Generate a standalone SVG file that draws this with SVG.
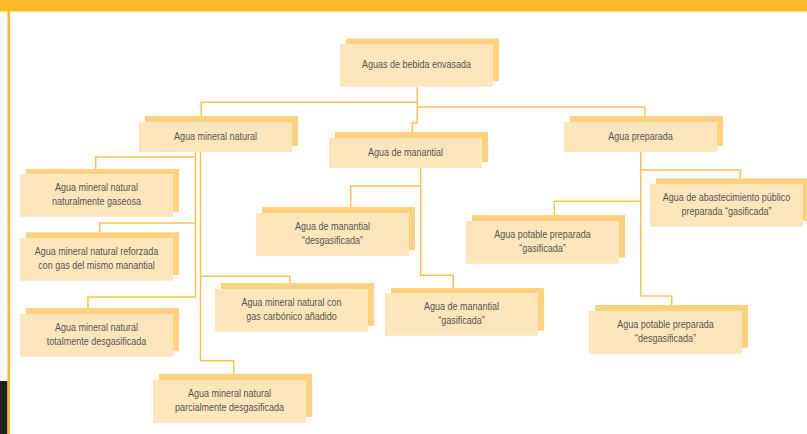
<svg xmlns="http://www.w3.org/2000/svg" width="807" height="434" viewBox="0 0 807 434">
<style>
.sh{fill:#FDD27F}
.bx{fill:#FDE6BC}
.t{font-family:"Liberation Sans",Arial,sans-serif;font-size:11px;fill:#5A554F;text-anchor:middle}
.c{fill:none;stroke:#FBC24E;stroke-width:1.5}
</style>
<rect x="0" y="0" width="807" height="11.5" fill="#FDB927"/>
<rect x="7.5" y="0" width="2.5" height="434" fill="#FDB927"/>
<rect x="0" y="381" width="7.3" height="53" fill="#231F20"/>
<g id="connectors">
<path class="c" d="M417.3 87 V122.7 H412.3 V132"/>
<path class="c" d="M417.3 102.3 H201.3 V116"/>
<path class="c" d="M417.3 107 H645 V116"/>
<path class="c" d="M195.5 152 V297 H88 V308"/>
<path class="c" d="M195.5 157 H95.7 V169"/>
<path class="c" d="M195.5 223 H99.7 V232"/>
<path class="c" d="M200.5 152 V360.7 H233.7 V374"/>
<path class="c" d="M200.5 276.3 H290 V283"/>
<path class="c" d="M420.7 168 V275.3 H453.3 V288"/>
<path class="c" d="M420.7 186 H350.7 V207"/>
<path class="c" d="M640.7 152 V296 H671.7 V305"/>
<path class="c" d="M640.7 170 H740.3 V178"/>
<path class="c" d="M640.7 201.3 H554.3 V215"/>
</g>
<g id="root">
<rect class="sh" x="346" y="38.5" width="153" height="42.7"/>
<rect class="bx" x="340" y="44" width="153" height="42.7"/>
<g transform="translate(416.5 0) scale(0.82 1)"><text class="t" x="0" y="68.3">Aguas de bebida envasada</text></g>
</g>
<g id="mineral">
<rect class="sh" x="145" y="116" width="153" height="30"/>
<rect class="bx" x="139" y="122" width="153" height="30"/>
<g transform="translate(215.5 0) scale(0.82 1)"><text class="t" x="0" y="140">Agua mineral natural</text></g>
</g>
<g id="manantial">
<rect class="sh" x="335" y="132" width="153" height="30"/>
<rect class="bx" x="329" y="138" width="153" height="30"/>
<g transform="translate(405.5 0) scale(0.82 1)"><text class="t" x="0" y="156">Agua de manantial</text></g>
</g>
<g id="preparada">
<rect class="sh" x="570" y="116" width="153" height="30"/>
<rect class="bx" x="564" y="122" width="153" height="30"/>
<g transform="translate(640.5 0) scale(0.82 1)"><text class="t" x="0" y="140">Agua preparada</text></g>
</g>
<g id="gaseosa">
<rect class="sh" x="26" y="169" width="153" height="42.7"/>
<rect class="bx" x="20" y="174" width="153" height="42.7"/>
<g transform="translate(96.5 0) scale(0.82 1)"><text class="t" x="0" y="191">Agua mineral natural</text>
<text class="t" x="0" y="205.5">naturalmente gaseosa</text></g>
</g>
<g id="reforzada">
<rect class="sh" x="26" y="232.3" width="153" height="42.7"/>
<rect class="bx" x="20" y="238" width="153" height="42.7"/>
<g transform="translate(96.5 0) scale(0.82 1)"><text class="t" x="0" y="255">Agua mineral natural reforzada</text>
<text class="t" x="0" y="269.5">con gas del mismo manantial</text></g>
</g>
<g id="totalmente">
<rect class="sh" x="26" y="308" width="153" height="42.7"/>
<rect class="bx" x="20" y="314" width="153" height="42.7"/>
<g transform="translate(96.5 0) scale(0.82 1)"><text class="t" x="0" y="331">Agua mineral natural</text>
<text class="t" x="0" y="345.5">totalmente desgasificada</text></g>
</g>
<g id="parcialmente">
<rect class="sh" x="159" y="374" width="153" height="42.7"/>
<rect class="bx" x="153" y="380" width="153" height="42.7"/>
<g transform="translate(229.5 0) scale(0.82 1)"><text class="t" x="0" y="397">Agua mineral natural</text>
<text class="t" x="0" y="411.5">parcialmente desgasificada</text></g>
</g>
<g id="carbonico">
<rect class="sh" x="221" y="283" width="153" height="42.7"/>
<rect class="bx" x="215" y="289" width="153" height="42.7"/>
<g transform="translate(291.5 0) scale(0.82 1)"><text class="t" x="0" y="306">Agua mineral natural con</text>
<text class="t" x="0" y="320.5">gas carbónico añadido</text></g>
</g>
<g id="man-desgasificada">
<rect class="sh" x="262" y="207" width="153" height="43"/>
<rect class="bx" x="256" y="213" width="153" height="43"/>
<g transform="translate(332.5 0) scale(0.82 1)"><text class="t" x="0" y="230">Agua de manantial</text>
<text class="t" x="0" y="244.5">“desgasificada”</text></g>
</g>
<g id="man-gasificada">
<rect class="sh" x="391" y="288" width="153" height="42.7"/>
<rect class="bx" x="385" y="293" width="153" height="42.7"/>
<g transform="translate(461.5 0) scale(0.82 1)"><text class="t" x="0" y="310">Agua de manantial</text>
<text class="t" x="0" y="324.5">“gasificada”</text></g>
</g>
<g id="abastecimiento">
<rect class="sh" x="656" y="178.3" width="153" height="42.7"/>
<rect class="bx" x="650" y="184" width="153" height="42.7"/>
<g transform="translate(726.5 0) scale(0.82 1)"><text class="t" x="0" y="201">Agua de abastecimiento público</text>
<text class="t" x="0" y="215.5">preparada “gasificada”</text></g>
</g>
<g id="potable-gasificada">
<rect class="sh" x="472" y="215" width="153" height="42.7"/>
<rect class="bx" x="466" y="221" width="153" height="42.7"/>
<g transform="translate(542.5 0) scale(0.82 1)"><text class="t" x="0" y="238">Agua potable preparada</text>
<text class="t" x="0" y="252.5">“gasificada”</text></g>
</g>
<g id="potable-desgasificada">
<rect class="sh" x="595" y="305" width="153" height="42.7"/>
<rect class="bx" x="589" y="311" width="153" height="42.7"/>
<g transform="translate(665.5 0) scale(0.82 1)"><text class="t" x="0" y="328">Agua potable preparada</text>
<text class="t" x="0" y="342.5">“desgasificada”</text></g>
</g>
</svg>
